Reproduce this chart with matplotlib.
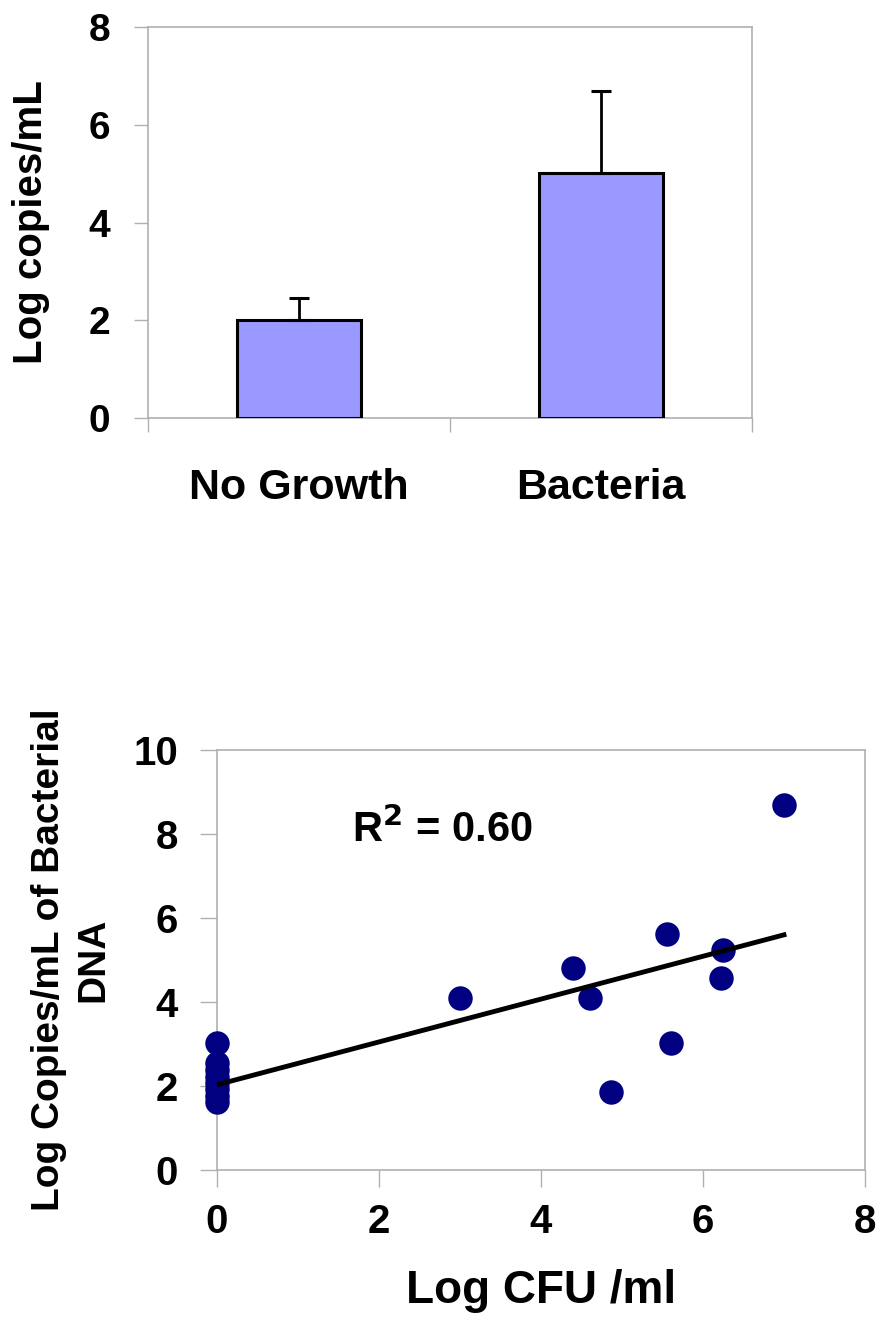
import matplotlib
matplotlib.use("Agg")
import matplotlib.pyplot as plt
from matplotlib import font_manager

# --- data -------------------------------------------------------------
groups = ["No Growth", "Bacteria"]
group_means = [2.0, 5.02]
group_err = [0.46, 1.68]

cfu_log = [0, 0, 0, 0, 0, 0, 0, 0,
           3.0, 4.4, 4.6, 4.87, 5.55, 5.6, 6.22, 6.25, 7.0]
copies_log = [3.03, 2.55, 2.38, 2.22, 2.07, 1.92, 1.77, 1.62,
              4.1, 4.82, 4.1, 1.85, 5.62, 3.03, 4.58, 5.25, 8.7]
fit_intercept = 2.03
fit_slope = 0.51
r_squared = 0.60

# --- fonts ------------------------------------------------------------
names = {f.name for f in font_manager.fontManager.ttflist}
narrow = "Liberation Sans Narrow" if "Liberation Sans Narrow" in names else "Liberation Sans"
plt.rcParams["font.family"] = ["Liberation Sans", "DejaVu Sans"]
plt.rcParams["font.weight"] = "bold"

frame = "#b0b0b0"

fig = plt.figure(figsize=(8.77, 13.32), dpi=100)

# --- top: bar chart -------------------------------------------------
ax1 = fig.add_axes([0.1688, 0.6862, 0.6887, 0.2935])
x = range(len(groups))
ax1.bar(x, group_means, width=0.41, color="#9999ff", edgecolor="black",
        linewidth=2.2, zorder=3)
ax1.errorbar(x, group_means, yerr=[[0] * len(group_err), group_err],
             fmt="none", ecolor="black", elinewidth=2, capsize=7,
             capthick=2.2, zorder=4)
ax1.set_xlim(-0.5, 1.5)
ax1.set_ylim(0, 8)
ax1.set_yticks([0, 2, 4, 6, 8])
ax1.set_xticks([-0.5, 0.5, 1.5])
ax1.set_xticklabels([])
ax1.set_xticks(list(x), groups, minor=True)
ax1.tick_params(axis="x", which="major", direction="out", length=10,
                width=1, color=frame)
ax1.tick_params(axis="x", which="minor", length=0, pad=36, labelsize=31)
ax1.tick_params(axis="y", direction="out", length=10, width=1,
                color=frame, pad=17, labelsize=28)
for s in ax1.spines.values():
    s.set_color(frame)
    s.set_linewidth(1.2)
ax1.set_ylabel("Log copies/mL", fontsize=29, fontweight="bold", labelpad=28)

# --- bottom: scatter --------------------------------------------------
ax2 = fig.add_axes([0.2474, 0.1216, 0.7389, 0.3153])
ax2.scatter(cfu_log, copies_log, s=310, color="#000080", zorder=3,
            clip_on=False, linewidths=0)
xfit = [0, max(cfu_log)]
yfit = [fit_intercept + fit_slope * v for v in xfit]
ax2.plot(xfit, yfit, color="black", linewidth=3.5, zorder=4)
ax2.set_xlim(0, 8)
ax2.set_ylim(0, 10)
ax2.set_xticks([0, 2, 4, 6, 8])
ax2.set_yticks([0, 2, 4, 6, 8, 10])
for lab in ax2.get_xticklabels() + ax2.get_yticklabels():
    lab.set_family([narrow, "DejaVu Sans"])
ax2.tick_params(axis="x", direction="out", length=12, width=1,
                color=frame, pad=12, labelsize=29)
ax2.tick_params(axis="y", direction="out", length=12, width=1,
                color=frame, pad=16, labelsize=29)
for s in ax2.spines.values():
    s.set_color(frame)
    s.set_linewidth(1.2)
ax2.set_xlabel("Log CFU /ml", fontsize=33, fontweight="bold",
               family=[narrow, "DejaVu Sans"], labelpad=20)
ax2.set_ylabel("Log Copies/mL of Bacterial\nDNA", fontsize=28,
               fontweight="bold", linespacing=1.3, labelpad=16)
ax2.text(1.67, 8.1, f"R$^{{2}}$ = {r_squared:.2f}", fontsize=30,
         fontweight="bold", family=[narrow, "DejaVu Sans"], va="center")

fig.savefig("out.png", dpi=100)
